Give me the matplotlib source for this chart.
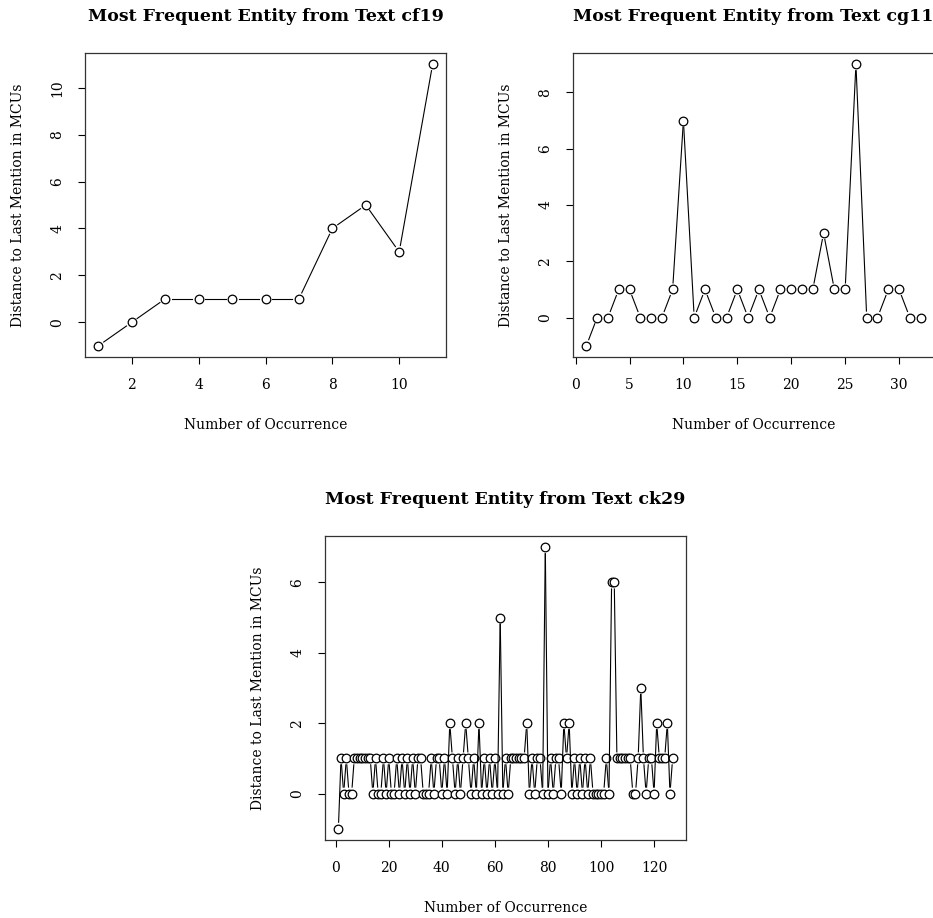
import numpy as np
import matplotlib
matplotlib.use("Agg")
import matplotlib.pyplot as plt

plt.rcParams['font.family'] = ['DejaVu Serif']

# ---- data ----
cf19_y = [-1, 0, 1, 1, 1, 1, 1, 4, 5, 3, 11]
cg11_y = [-1, 0, 0, 1, 1, 0, 0, 0, 1, 7, 0, 1, 0, 0, 1, 0, 1, 0, 1, 1, 1, 1,
          3, 1, 1, 9, 0, 0, 1, 1, 0, 0]
ck29_y = [-1, 1, 0, 1, 0, 0, 1, 1, 1, 1, 1, 1, 1, 0, 1, 0, 0, 1, 0, 1,
          0, 0, 1, 0, 1, 0, 1, 0, 1, 0, 1, 1, 0, 0, 0, 1, 0, 1, 1, 0,
          1, 0, 2, 1, 0, 1, 0, 1, 2, 1, 0, 1, 0, 2, 0, 1, 0, 1, 0, 1,
          0, 5, 0, 1, 0, 1, 1, 1, 1, 1, 1, 2, 0, 1, 0, 1, 1, 0, 7, 0,
          1, 0, 1, 1, 0, 2, 1, 2, 0, 1, 0, 1, 0, 1, 0, 1, 0, 0, 0, 0,
          0, 1, 0, 6, 6, 1, 1, 1, 1, 1, 1, 0, 0, 1, 3, 1, 0, 1, 1, 0,
          2, 1, 1, 1, 2, 0, 1]

titles = ["Most Frequent Entity from Text cf19",
          "Most Frequent Entity from Text cg11",
          "Most Frequent Entity from Text ck29"]
xticks = [[2, 4, 6, 8, 10], [0, 5, 10, 15, 20, 25, 30], [0, 20, 40, 60, 80, 100, 120]]
yticks = [[0, 2, 4, 6, 8, 10], [0, 2, 4, 6, 8], [0, 2, 4, 6]]
xlabel = "Number of Occurrence"
ylabel = "Distance to Last Mention in MCUs"

W, H = 933, 918
fig = plt.figure(figsize=(W / 100, H / 100), dpi=100)

# panel boxes in pixels: left, top, right, bottom
boxes = [(85, 53, 446, 357), (573, 53, 934, 357), (325, 536, 686, 840)]
series = [cf19_y, cg11_y, ck29_y]

for (l, t, r, b), ys, title, xt, yt in zip(boxes, series, titles, xticks, yticks):
    ax = fig.add_axes([l / W, 1 - b / H, (r - l) / W, (b - t) / H])
    xs = np.arange(1, len(ys) + 1)
    ys = np.asarray(ys, dtype=float)
    ax.plot(xs, ys, linestyle='none', marker='o', markersize=6.2,
            markerfacecolor='white', markeredgecolor='black', markeredgewidth=0.9)
    ax.margins(0.04)
    ax.set_xticks(xt)
    ax.set_yticks(yt)
    ax.tick_params(axis='both', direction='out', length=5, width=0.8,
                   labelsize=10, pad=10)
    for lab in ax.get_yticklabels():
        lab.set_rotation(90)
        lab.set_va('center')
    for s in ax.spines.values():
        s.set_color('#333333')
        s.set_linewidth(0.9)
    ax.set_title(title, fontsize=12.5, fontweight='bold', pad=23)
    ax.set_xlabel(xlabel, fontsize=10)
    ax.set_ylabel(ylabel, fontsize=10)
    ax.xaxis.set_label_coords(0.5, -61 / (b - t))
    ax.yaxis.set_label_coords(-60 / (r - l), 0.5)

    # type="b" style: line segments with gaps around the points
    fig.canvas.draw()
    pts = ax.transData.transform(np.column_stack([xs, ys]))
    gap = 6.5
    inv = ax.transData.inverted()
    for i in range(len(xs) - 1):
        p0, p1 = pts[i], pts[i + 1]
        d = p1 - p0
        L = np.hypot(*d)
        if L <= 2 * gap:
            continue
        u = d / L
        a = inv.transform(p0 + u * gap)
        c = inv.transform(p1 - u * gap)
        ax.plot([a[0], c[0]], [a[1], c[1]], color='black', linewidth=0.8)

fig.savefig("out.png", dpi=100)
